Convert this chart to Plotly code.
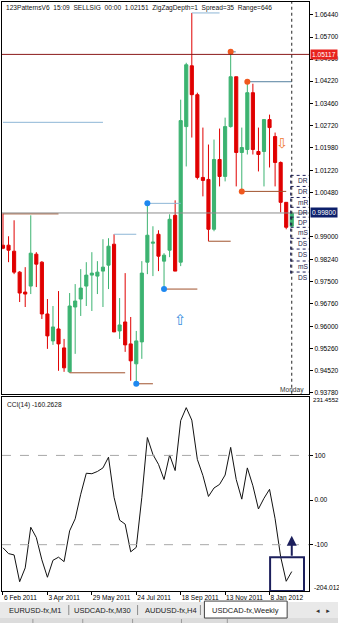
import pandas as pd
import plotly.graph_objects as go

W, H = 339, 625

# ---------------- data ----------------
dates = pd.date_range("2011-02-06", periods=53, freq="7D")

opens = [0.98720, 0.98720, 0.98519, 0.97817, 0.97149, 0.97350, 0.98419, 0.98151, 0.96414, 0.95511,
         0.95912, 0.95277, 0.94475, 0.96648, 0.96915, 0.97350, 0.97717, 0.97684, 0.97851, 0.98051,
         0.98753, 0.95846, 0.96146, 0.95411, 0.94743, 0.95478, 0.98151, 0.98787, 0.99087, 0.98185,
         0.98553, 0.99722, 0.98151, 1.02697, 1.04735, 1.03766, 1.00992, 1.00925, 0.99254, 1.01594,
         1.01026, 1.02697, 1.04368, 1.01828, 1.01928, 1.03833, 1.01861, 1.01861, 1.02931, 1.02363,
         1.01494, 1.00157, 0.99355]
highs = [0.99789, 0.99020, 0.99555, 0.97851, 0.97984, 0.99722, 0.98486, 0.98185, 0.96915, 0.96681,
         0.97182, 0.95578, 0.97116, 0.97416, 0.97918, 0.98151, 0.98486, 0.98185, 0.98920, 0.98954,
         0.99087, 0.96948, 0.97784, 0.96313, 0.95846, 0.98185, 1.00123, 0.99355, 0.99221, 0.98452,
         0.99756, 1.00224, 1.03599, 1.04836, 1.06507, 1.03833, 1.02663, 1.02095, 1.02262, 1.02630,
         1.02997, 1.05203, 1.04368, 1.02663, 1.04201, 1.04134, 1.02663, 1.02931, 1.03098, 1.02496,
         1.01527, 1.00157, 0.99823]
lows = [0.98586, 0.98151, 0.97750, 0.96815, 0.96648, 0.97082, 0.97316, 0.96247, 0.95244, 0.95378,
        0.94509, 0.94475, 0.94442, 0.95077, 0.96347, 0.96681, 0.96514, 0.97082, 0.96648, 0.97249,
        0.95812, 0.95578, 0.95144, 0.94175, 0.94074, 0.94910, 0.97750, 0.97684, 0.97851, 0.97249,
        0.98319, 0.97851, 0.98018, 1.01360, 1.02329, 1.00925, 1.00357, 0.98853, 0.99188, 1.00691,
        1.00859, 1.02663, 1.00691, 1.00524, 1.01761, 1.01761, 1.01193, 1.00691, 1.01326, 1.00691,
        0.99823, 0.99254, 0.99321]
closes = [0.98619, 0.98553, 0.97817, 0.97116, 0.97082, 0.98452, 0.98085, 0.96414, 0.95679, 0.95979,
          0.95411, 0.94609, 0.96681, 0.96848, 0.97283, 0.97717, 0.97784, 0.97817, 0.97984, 0.98686,
          0.95812, 0.96046, 0.95378, 0.94843, 0.95511, 0.97784, 0.99054, 0.98820, 0.98352, 0.98386,
          0.99589, 0.97851, 1.02897, 1.04769, 1.03766, 1.00992, 1.00892, 0.99254, 1.01594, 1.01026,
          1.02697, 1.04368, 1.01828, 1.01995, 1.03833, 1.01928, 1.01761, 1.02931, 1.02663, 1.01494,
          1.00157, 0.99321, 0.99800]

cci = [-107, -120, -123, -183, -152, -61, -84, -134, -173, -135,
       -128, -138, -69, -42, 13, 60, 59, 64, 72, 96,
       6, -45, -54, -116, -106, 6, 140, 102, 80, 46,
       101, 66, 178, 207, 179, 91, 55, 8, 27, 35,
       56, 118, 46, 2, 72, 32, -20, 4, 24, -42,
       -127, -182, -160.2628]

price_ticks = [1.0644, 1.0570, 1.0496, 1.0422, 1.0346, 1.0272, 1.0198, 1.0122, 1.0048,
               0.9900, 0.9824, 0.9750, 0.9676, 0.9600, 0.9526, 0.9452, 0.9378]
date_tick_idx = [0, 8, 16, 24, 32, 40, 48]
date_tick_text = ["6 Feb 2011", "3 Apr 2011", "29 May 2011", "24 Jul 2011",
                  "18 Sep 2011", "13 Nov 2011", "8 Jan 2012"]
cci_ticks = [100, 0, -100]
cci_tick_text = ["100", "0.00", "-100"]
cci_max, cci_min = 231.4552, -204.012

ask_level = 1.05117
bid_level = 0.99800

resistance_lines = [(0, 18, 1.02840), (20, 24, 0.99087), (26, 32, 1.00123), (34, 39, 1.06507)]
resistance_lines_dark = [(44, 52, 1.04201), (41, 41.9, 1.05203)]
support_lines = [(0, 10, 0.99770), (12, 22, 0.94442), (24, 27, 0.94074),
                 (29, 35, 0.97249), (37, 41, 0.98853), (43, 51, 1.00524)]
blue_pivots = [(26, "high"), (24, "low"), (29, "low")]
orange_pivots = [(41, "high"), (44, "high"), (43, "low")]

pivot_names = ["DR", "DR", "mR", "DR", "DP", "mS", "DS", "DS", "mS", "DS"]
pivot_levels = [1.0106, 1.0069, 1.0032, 0.9999, 0.9966, 0.9932, 0.9895, 0.9859, 0.9819, 0.9782]

header = "123PatternsV6  15:09  SELLSIG  00:00  1.02151  ZigZagDepth=1  Spread=35  Range=646"
tabs = ["EURUSD-fx,M1", "USDCAD-fx,M30", "AUDUSD-fx,H4", "USDCAD-fx,Weekly"]

# ---------------- styles ----------------
FONT = "Liberation Sans, Arial, sans-serif"
FS = 6.6
GREEN = "#3cb371"
RED = "#e00000"
LBLUE = "#8db6d6"
DBLUE = "#55809f"
BROWN = "#a0522d"
DOT_BLUE = "#1e88f0"
DOT_ORANGE = "#f0581e"
NAVY = "#1c1f5c"


def bx(i):
    return dates[0] + pd.Timedelta(days=7 * i)


def px(x):
    return x / W


def py(y):
    return 1 - y / H


x_range = [bx(-0.18), bx(55.12)]
main_dom = [py(395), py(2)]
cci_dom = [py(593), py(398)]
x_dom = [px(2), px(310)]
main_range = [0.93740, 1.06874]

fig = go.Figure()

fig.add_trace(go.Candlestick(
    x=dates, open=opens, high=highs, low=lows, close=closes,
    increasing=dict(line=dict(color=GREEN, width=1), fillcolor=GREEN),
    decreasing=dict(line=dict(color=RED, width=1), fillcolor=RED),
    whiskerwidth=0, showlegend=False, hoverinfo="skip", xaxis="x", yaxis="y"))


def seg_trace(segs, color):
    xs, ys = [], []
    for a, b, lvl in segs:
        xs += [bx(a), bx(b), None]
        ys += [lvl, lvl, None]
    return go.Scatter(x=xs, y=ys, mode="lines", line=dict(color=color, width=1),
                      showlegend=False, hoverinfo="skip", xaxis="x", yaxis="y")


fig.add_trace(seg_trace(resistance_lines, LBLUE))
fig.add_trace(seg_trace(resistance_lines_dark, DBLUE))
fig.add_trace(seg_trace(support_lines, BROWN))


def pivot_trace(pivots, color):
    xs = [dates[i] for i, _ in pivots]
    ys = [highs[i] if k == "high" else lows[i] for i, k in pivots]
    return go.Scatter(x=xs, y=ys, mode="markers", marker=dict(color=color, size=6),
                      showlegend=False, hoverinfo="skip", xaxis="x", yaxis="y")


fig.add_trace(pivot_trace(blue_pivots, DOT_BLUE))
fig.add_trace(pivot_trace(orange_pivots, DOT_ORANGE))

# pivot level lines (right side)
xs, ys = [], []
for lvl in pivot_levels:
    xs += [bx(51.8), bx(55.3), None]
    ys += [lvl, lvl, None]
fig.add_trace(go.Scatter(x=xs, y=ys, mode="lines", line=dict(color=NAVY, width=1, dash="dot"),
                         showlegend=False, hoverinfo="skip", xaxis="x", yaxis="y"))

fig.add_trace(go.Scatter(x=dates, y=cci, mode="lines", line=dict(color="#111111", width=1),
                         showlegend=False, hoverinfo="skip", xaxis="x2", yaxis="y2"))

axis_common = dict(showgrid=False, zeroline=False, showline=True, mirror=True,
                   linecolor="black", linewidth=1, tickcolor="black",
                   tickfont=dict(family=FONT, size=FS, color="black"))

fig.update_layout(
    width=W, height=H, margin=dict(l=0, r=0, t=0, b=0),
    paper_bgcolor="white", plot_bgcolor="white", boxgap=0.25, boxgroupgap=0.25,
    font=dict(family=FONT, size=FS, color="black"),
    xaxis=dict(domain=x_dom, range=x_range, type="date", anchor="y",
               showticklabels=False, ticks="", rangeslider=dict(visible=False), **axis_common),
    yaxis=dict(domain=main_dom, range=main_range, side="right", anchor="x",
               tickvals=price_ticks, ticktext=[f"{v:.5f}" for v in price_ticks],
               ticks="outside", ticklen=3, **axis_common),
    xaxis2=dict(domain=x_dom, range=x_range, type="date", anchor="y2",
                tickvals=[dates[i] for i in date_tick_idx], ticktext=date_tick_text,
                ticks="outside", ticklen=3, ticklabelposition="outside right", tickangle=0,
                **axis_common),
    yaxis2=dict(domain=cci_dom, range=[cci_min, cci_max], side="right", anchor="x2",
                tickvals=cci_ticks, ticktext=cci_tick_text, ticks="outside", ticklen=3,
                **axis_common),
)

shapes = []
# CCI dashed levels
for lv in (100, -100):
    shapes.append(dict(type="line", xref="x2 domain", x0=0, x1=1, yref="y2", y0=lv, y1=lv,
                       line=dict(color="#a8a8a8", width=1, dash="dash")))
# ask / bid lines
shapes.append(dict(type="line", xref="x domain", x0=0, x1=1, yref="y", y0=ask_level, y1=ask_level,
                   line=dict(color="#8b1a1a", width=1)))
shapes.append(dict(type="line", xref="x domain", x0=0, x1=1, yref="y", y0=bid_level, y1=bid_level,
                   line=dict(color="#8c8c8c", width=1)))
# current bar separator
shapes.append(dict(type="line", xref="x", x0=bx(52), x1=bx(52), yref="y domain", y0=0, y1=1,
                   line=dict(color="#222222", width=1, dash="dot")))
shapes.append(dict(type="line", xref="x", x0=bx(51.8), x1=bx(51.8), yref="y",
                   y0=pivot_levels[-1] - 0.0005, y1=pivot_levels[0],
                   line=dict(color=NAVY, width=1, dash="dot")))
# CCI drawing box
shapes.append(dict(type="rect", xref="x2", x0=bx(48.1), x1=bx(54.2), yref="y2", y0=cci_min, y1=-128,
                   line=dict(color=NAVY, width=2)))
# tab bar
shapes.append(dict(type="rect", xref="paper", yref="paper", x0=0, x1=1, y0=py(625), y1=py(604),
                   fillcolor="#e9e9e9", line=dict(width=0), layer="below"))
shapes.append(dict(type="rect", xref="paper", yref="paper", x0=0, x1=1, y0=py(625), y1=py(620),
                   fillcolor="#dcdcdc", line=dict(width=0), layer="below"))
shapes.append(dict(type="rect", xref="paper", yref="paper", x0=px(205), x1=px(288), y0=py(620), y1=py(603),
                   fillcolor="white", line=dict(color="#404040", width=1)))
for sx in (69, 138, 201):
    shapes.append(dict(type="line", xref="paper", yref="paper", x0=px(sx), x1=px(sx),
                       y0=py(617), y1=py(607), line=dict(color="#8a8a8a", width=1)))
for sx in (33, 83, 133, 182, 228):
    shapes.append(dict(type="line", xref="paper", yref="paper", x0=px(sx), x1=px(sx),
                       y0=py(625), y1=py(621), line=dict(color="#9a9a9a", width=1)))
fig.update_layout(shapes=shapes)

ann = []
ann.append(dict(text=header, xref="paper", yref="paper", x=px(4), y=py(2), xanchor="left", yanchor="top",
                showarrow=False, font=dict(size=FS, color="#111111")))
ann.append(dict(text="CCI(14) -160.2628", xref="paper", yref="paper", x=px(5), y=py(400),
                xanchor="left", yanchor="top", showarrow=False, font=dict(size=FS, color="#111111")))
ann.append(dict(text=f"{cci_max:.4f}", xref="paper", yref="paper", x=px(312), y=py(401),
                xanchor="left", yanchor="middle", showarrow=False, font=dict(size=6.1)))
ann.append(dict(text=f"{cci_min:.3f}", xref="paper", yref="paper", x=px(313), y=py(589),
                xanchor="left", yanchor="middle", showarrow=False, font=dict(size=FS)))
ann.append(dict(text=f"{ask_level:.5f}", xref="paper", yref="y", x=px(311), y=ask_level,
                xanchor="left", yanchor="middle", showarrow=False, bgcolor="#e8231e",
                borderpad=1, font=dict(size=FS, color="white")))
ann.append(dict(text=f"{bid_level:.5f}", xref="paper", yref="y", x=px(311), y=bid_level,
                xanchor="left", yanchor="middle", showarrow=False, bgcolor="#0c1f6b",
                borderpad=1, font=dict(size=FS, color="white")))
ann.append(dict(text="Monday", xref="paper", yref="paper", x=px(279), y=py(391),
                xanchor="left", yanchor="middle", showarrow=False, font=dict(size=FS, color="#333333")))
for name, lvl in zip(pivot_names, pivot_levels):
    ann.append(dict(text=name, xref="x", yref="y", x=bx(52.7), y=lvl, xanchor="left", yanchor="top",
                    showarrow=False, font=dict(size=FS, color="#1a1a4a")))
ann.append(dict(text="⇩", xref="x", yref="y", x=bx(50.2), y=1.0216, showarrow=False,
                font=dict(family="DejaVu Sans", size=14, color="#f07a30")))
ann.append(dict(text="⇧", xref="x", yref="y", x=bx(32), y=0.9621, showarrow=False,
                font=dict(family="DejaVu Sans", size=15, color="#3a8fe0")))
ann.append(dict(text="", xref="x2", yref="y2", x=bx(52), y=-80, axref="x2", ayref="y2",
                ax=bx(52), ay=-128, showarrow=True, arrowhead=2, arrowsize=1, arrowwidth=2,
                arrowcolor=NAVY))
tab_centers = [36, 103, 172, 246]
for t, cx in zip(tabs, tab_centers):
    ann.append(dict(text=t, xref="paper", yref="paper", x=px(cx), y=py(612.5), xanchor="center",
                    yanchor="middle", showarrow=False, font=dict(size=7.5, color="#222222")))
ann.append(dict(text="◂   ▸", xref="paper", yref="paper", x=px(324), y=py(612.5), xanchor="center",
                yanchor="middle", showarrow=False, font=dict(family="DejaVu Sans", size=7, color="#333333")))
fig.update_layout(annotations=ann)

fig.write_html("out.html")
